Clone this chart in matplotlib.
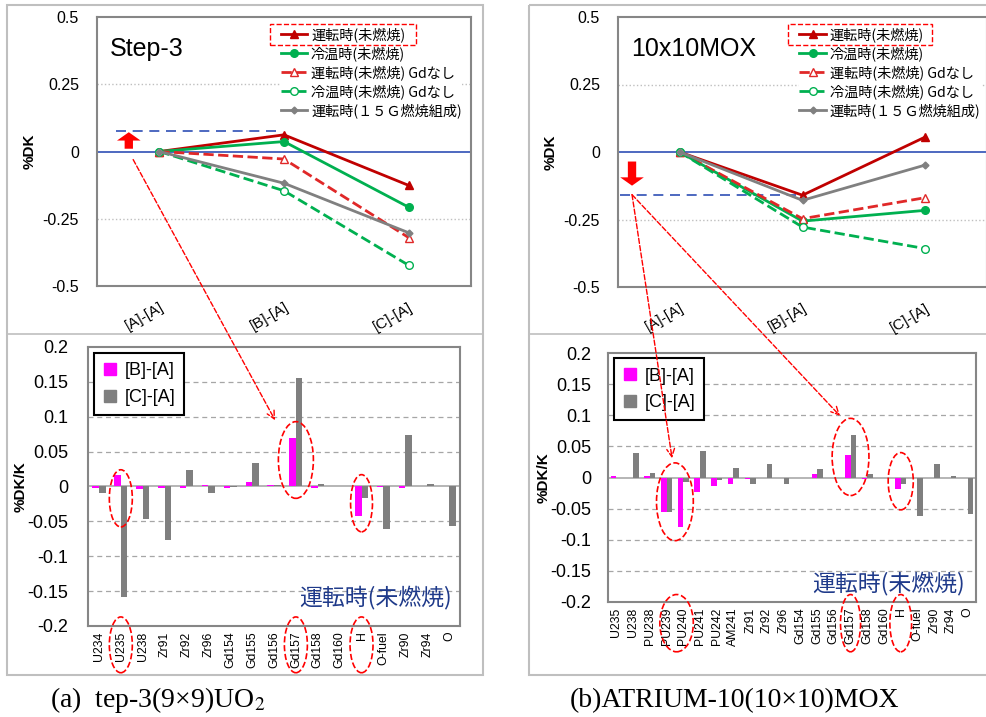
import matplotlib
matplotlib.use('Agg')
import matplotlib.pyplot as plt
import numpy as np
from matplotlib.patches import Rectangle, Ellipse, ConnectionPatch
from matplotlib.lines import Line2D

plt.rcParams['font.family'] = ['Liberation Sans', 'Noto Sans CJK JP']
plt.rcParams['mathtext.fontset'] = 'stix'
JP = ['Noto Sans CJK JP', 'DejaVu Sans']

W, H = 987, 717

# ---- data -------------------------------------------------------------
top_cats = ['[A]-[A]', '[B]-[A]', '[C]-[A]']
series_names = ['運転時(未燃焼)', '冷温時(未燃焼)', '運転時(未燃焼) Gdなし',
                '冷温時(未燃焼) Gdなし', '運転時(１５Ｇ燃焼組成)']

s3_hot = [0.0, 0.062, -0.126]
s3_cold = [0.0, 0.037, -0.207]
s3_hot_nogd = [0.0, -0.028, -0.320]
s3_cold_nogd = [0.0, -0.146, -0.423]
s3_burn = [0.0, -0.118, -0.302]

mox_hot = [0.0, -0.160, 0.056]
mox_cold = [0.0, -0.256, -0.216]
mox_hot_nogd = [0.0, -0.247, -0.169]
mox_cold_nogd = [0.0, -0.278, -0.358]
mox_burn = [0.0, -0.179, -0.048]

s3_nuclides = ['U234', 'U235', 'U238', 'Zr91', 'Zr92', 'Zr96', 'Gd154', 'Gd155',
               'Gd156', 'Gd157', 'Gd158', 'Gd160', 'H', 'O-fuel', 'Zr90', 'Zr94', 'O']
s3_ba = [-0.002, 0.016, -0.003, -0.002, -0.002, 0.002, -0.002, 0.006,
         0.002, 0.069, -0.002, 0.0, -0.042, -0.001, -0.002, 0.0, 0.0]
s3_ca = [-0.010, -0.159, -0.047, -0.076, 0.023, -0.010, -0.001, 0.034,
         0.002, 0.156, 0.004, 0.0, -0.016, -0.061, 0.074, 0.003, -0.056]

mox_nuclides = ['U235', 'U238', 'PU238', 'PU239', 'PU240', 'PU241', 'PU242', 'AM241',
                'Zr91', 'Zr92', 'Zr96', 'Gd154', 'Gd155', 'Gd156', 'Gd157', 'Gd158',
                'Gd160', 'H', 'O-fuel', 'Zr90', 'Zr94', 'O']
mox_ba = [0.003, -0.001, 0.002, -0.056, -0.079, -0.023, -0.014, -0.011,
          -0.002, 0.0, 0.0, 0.0, 0.006, 0.0, 0.036, -0.002,
          0.0, -0.019, 0.0, 0.0, 0.0, 0.0]
mox_ca = [0.0, 0.040, 0.007, -0.056, -0.007, 0.042, -0.004, 0.016,
          -0.011, 0.021, -0.011, 0.0, 0.014, 0.0, 0.069, 0.006,
          0.0, -0.010, -0.062, 0.022, 0.003, -0.059]

s3_shift = 0.077    # blue dashed level / arrow, Step-3
mox_shift = -0.158  # blue dashed level / arrow, MOX


def px(x0, y0, x1, y1):
    return [x0 / W, 1 - y1 / H, (x1 - x0) / W, (y1 - y0) / H]


fig = plt.figure(figsize=(W / 100, H / 100), dpi=100)

# background overlay for panel frames and captions
ov = fig.add_axes([0, 0, 1, 1], zorder=-1)
ov.set_xlim(0, W)
ov.set_ylim(H, 0)
ov.axis('off')
for x0, x1 in [(7, 483), (529, 992)]:
    ov.add_patch(Rectangle((x0, 5), x1 - x0, 670, fill=False, ec='#BFBFBF', lw=1.5))
    ov.plot([x0, x1], [334, 334], color='#BFBFBF', lw=1.2)
ov.text(50, 707, '(a)  tep-3(9×9)UO$_2$', family='Liberation Serif', fontsize=20,
        va='baseline')
ov.text(570, 707, '(b)ATRIUM-10(10×10)MOX', family='Liberation Serif', fontsize=20,
        va='baseline')

styles = [dict(color='#C00000', ls='-', marker='^', mfc='#C00000'),
          dict(color='#00B050', ls='-', marker='o', mfc='#00B050'),
          dict(color='#E02828', ls='--', marker='^', mfc='white'),
          dict(color='#00B050', ls='--', marker='o', mfc='white'),
          dict(color='#808080', ls='-', marker='D', mfc='#808080')]

ARROW = 'simple,head_width=1.7,head_length=0.6,tail_width=0.6'


def top_chart(rect, data, title, shift, arrow_x):
    ax = fig.add_axes(rect)
    x = np.arange(len(top_cats))
    for vals, name, st in zip(data, series_names, styles):
        ms = 3.5 if st['marker'] == 'D' else 5.5
        ax.plot(x, vals, lw=2, label=name, marker=st['marker'], ms=ms,
                color=st['color'], ls=st['ls'], mfc=st['mfc'], mec=st['color'],
                mew=1.0, zorder=4)
    ax.set_xlim(-0.5, 2.5)
    ax.set_ylim(-0.5, 0.5)
    ax.set_yticks([-0.5, -0.25, 0, 0.25, 0.5])
    ax.set_yticklabels(['-0.5', '-0.25', '0', '0.25', '0.5'])
    ax.set_xticks(x)
    ax.set_xticklabels(top_cats, rotation=30, ha='right', rotation_mode='anchor')
    ax.tick_params(axis='y', length=0, pad=13, labelsize=11.5)
    ax.tick_params(axis='x', length=0, pad=10, labelsize=11)
    for s in ax.spines.values():
        s.set_color('#868686')
        s.set_linewidth(1.5)
    for g in (-0.25, 0.25):
        ax.axhline(g, color='#BFBFBF', lw=1, ls=':', zorder=1)
    ax.axhline(0, color='#2F4FB5', lw=1.2, zorder=2)
    ax.set_ylabel('%DK', fontweight='bold', fontsize=11, labelpad=4)
    ax.text(0.035, 0.88, title, transform=ax.transAxes, fontsize=18, va='center')
    ax.legend(loc='upper left', bbox_to_anchor=(0.47, 0.99), frameon=True,
              edgecolor='none', framealpha=1, borderpad=0.05, handlelength=1.9,
              handletextpad=0.25, labelspacing=0.28, prop={'family': JP, 'size': 10.2})
    ax.add_patch(Rectangle((0.462, 0.895), 0.39, 0.08, transform=ax.transAxes,
                           fill=False, ec='red', ls='--', lw=1, zorder=6))
    # reference level and shift arrow
    ax.plot([arrow_x - 0.1, 0.95], [shift, shift], color='#2F4FB5', ls='--', lw=1.2,
            dashes=(6, 4), zorder=3)
    if shift > 0:
        ax.annotate('', xy=(arrow_x, shift + 0.005), xytext=(arrow_x, 0.0),
                    arrowprops=dict(arrowstyle=ARROW, color='red', lw=0), zorder=5)
    else:
        ax.annotate('', xy=(arrow_x, -0.135), xytext=(arrow_x, -0.025),
                    arrowprops=dict(arrowstyle=ARROW, color='red', lw=0), zorder=5)
    return ax


def bar_chart(rect, names, ba, ca, width, ypad):
    ax = fig.add_axes(rect)
    x = np.arange(len(names))
    ax.bar(x - width / 2, ba, width, color='#FF00FF', zorder=3)
    ax.bar(x + width / 2, ca, width, color='#7F7F7F', zorder=3)
    ax.set_xlim(-0.5, len(names) - 0.5)
    ax.set_ylim(-0.2, 0.2)
    yt = np.round(np.arange(-0.2, 0.2001, 0.05), 2)
    ax.set_yticks(yt)
    ax.set_yticklabels(['0' if v == 0 else f'{v:g}' for v in yt])
    for v in yt:
        if v != 0 and abs(v) < 0.2:
            ax.axhline(v, color='#A6A6A6', lw=0.9, ls=(0, (4, 3)), zorder=1)
    ax.axhline(0, color='#B0B0B0', lw=1.3, zorder=2)
    ax.set_xticks(x)
    ax.set_xticklabels(names, rotation=90, fontsize=8.8)
    ax.tick_params(axis='x', length=0, pad=4)
    ax.tick_params(axis='y', length=0, pad=ypad, labelsize=13)
    for s in ax.spines.values():
        s.set_color('#868686')
        s.set_linewidth(1.5)
    ax.set_ylabel('%DK/K', fontweight='bold', fontsize=11, labelpad=0)
    handles = [Line2D([], [], ls='none', marker='s', ms=9, color='#FF00FF'),
               Line2D([], [], ls='none', marker='s', ms=9, color='#7F7F7F')]
    leg = ax.legend(handles, ['[B]-[A]', '[C]-[A]'], loc='upper left',
                    bbox_to_anchor=(0.016, 0.978), borderaxespad=0, fancybox=False,
                    edgecolor='black', framealpha=1, fontsize=13, handlelength=0.8,
                    handletextpad=0.4, labelspacing=0.55, borderpad=0.5)
    leg.get_frame().set_linewidth(1.5)
    return ax


def ring(ax, cx, cy, w, h):
    ax.add_patch(Ellipse((cx, cy), w, h, fill=False, ec='red', ls='--', lw=1.2,
                         clip_on=False, zorder=7))


# ---- Step-3 (9x9) UO2 ------------------------------------------------
axL = top_chart(px(97, 17, 471, 286),
                [s3_hot, s3_cold, s3_hot_nogd, s3_cold_nogd, s3_burn],
                'Step-3', s3_shift, -0.245)
bL = bar_chart(px(88, 347, 460, 626), s3_nuclides, s3_ba, s3_ca, 0.3, 14)
bL.text(0.978, 0.104, '運転時(未燃焼)', transform=bL.transAxes, ha='right', va='center',
        fontsize=16.5, color='#1F3A8A', family=JP)
for i, cy, w, h in [(1, -0.017, 1.05, 0.082), (9, 0.038, 1.6, 0.11), (12, -0.024, 1.0, 0.082)]:
    ring(bL, i, cy, w, h)
for i, w in [(1, 1.05), (9, 1.05), (12, 1.05)]:
    ring(bL, i, -0.227, w, 0.08)
fig.add_artist(ConnectionPatch((-0.21, -0.03), (8.05, 0.095), coordsA=axL.transData,
                               coordsB=bL.transData, arrowstyle='->', ls='--',
                               color='red', lw=1, mutation_scale=14, zorder=8))

# ---- ATRIUM-10 (10x10) MOX ------------------------------------------
axR = top_chart(px(618, 17, 987, 287),
                [mox_hot, mox_cold, mox_hot_nogd, mox_cold_nogd, mox_burn],
                '10x10MOX', mox_shift, -0.386)
bR = bar_chart(px(608, 353, 976, 602), mox_nuclides, mox_ba, mox_ca, 0.33, 12)
bR.text(0.97, 0.076, '運転時(未燃焼)', transform=bR.transAxes, ha='right', va='center',
        fontsize=16.5, color='#1F3A8A', family=JP)
for cx, cy, w, h in [(3.5, -0.039, 2.2, 0.125), (14, 0.033, 2.2, 0.124), (17, -0.006, 1.5, 0.092)]:
    ring(bR, cx, cy, w, h)
for cx, w in [(3.6, 2.0), (14, 1.2), (17, 1.3)]:
    ring(bR, cx, -0.234, w, 0.092)
for xb, yb in [(3.33, 0.031), (13.37, 0.099)]:
    fig.add_artist(ConnectionPatch((-0.386, mox_shift), (xb, yb), coordsA=axR.transData,
                                   coordsB=bR.transData, arrowstyle='->', ls='--',
                                   color='red', lw=1, mutation_scale=14, zorder=8))

fig.savefig('out.png', dpi=100)
